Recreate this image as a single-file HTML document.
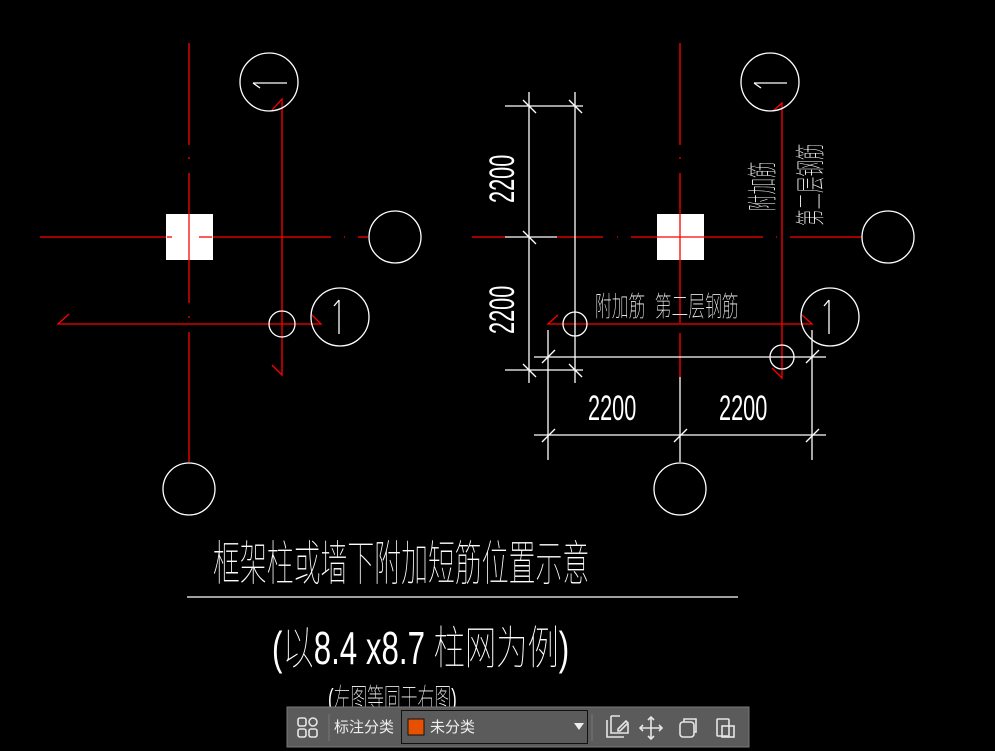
<!DOCTYPE html>
<html><head><meta charset="utf-8"><style>
html,body{margin:0;padding:0;background:#000;width:995px;height:751px;overflow:hidden}
svg{display:block}
.cad{font-family:"Liberation Sans","Noto Sans CJK SC",sans-serif;fill:#fff;font-weight:100}
.tb{font-family:"Liberation Sans","Noto Sans CJK SC",sans-serif;fill:#eee;font-size:15px}
</style></head><body>
<svg width="995" height="751" viewBox="0 0 995 751" xmlns="http://www.w3.org/2000/svg">
<g fill="none" stroke-width="1.3">
<!-- LEFT -->
<g stroke="#ff0000">
<line x1="189" y1="43" x2="189" y2="145"/><line x1="189" y1="157" x2="189" y2="159"/>
<line x1="189" y1="173" x2="189" y2="303"/><line x1="189" y1="316" x2="189" y2="318"/>
<line x1="189" y1="332" x2="189" y2="462"/>
<line x1="40" y1="237" x2="331" y2="237"/><line x1="344" y1="237" x2="345" y2="237"/><line x1="358" y1="237" x2="368" y2="237"/>
<polyline points="272,110 282,99 282,375 272,365"/>
<polyline points="69,314 58,324 321,324 312,315"/>
</g>
<rect x="166" y="214" width="47" height="46" fill="#fff" stroke="none"/>
<g stroke="#ff0000"><line x1="189" y1="214" x2="189" y2="260"/><line x1="167" y1="237" x2="172" y2="237"/><line x1="199" y1="237" x2="212" y2="237"/></g>
<g stroke="#fff">
<circle cx="269" cy="82" r="29"/><line x1="253" y1="83" x2="287" y2="83"/><line x1="253" y1="83" x2="260" y2="88"/>
<circle cx="395" cy="237" r="26"/>
<circle cx="189" cy="489" r="26"/>
<circle cx="282" cy="324" r="13"/>
<circle cx="340" cy="317" r="29"/><line x1="339" y1="300" x2="339" y2="334"/><line x1="339" y1="300" x2="334" y2="306"/>
</g>
<!-- RIGHT -->
<g stroke="#ff0000">
<line x1="680" y1="43" x2="680" y2="145"/><line x1="680" y1="157" x2="680" y2="159"/>
<line x1="680" y1="173" x2="680" y2="323"/><line x1="680" y1="333" x2="680" y2="377"/>
<line x1="472" y1="237" x2="505" y2="237"/><line x1="557" y1="237" x2="603" y2="237"/><line x1="617" y1="237" x2="618" y2="237"/><line x1="631" y1="237" x2="763" y2="237"/><line x1="776" y1="237" x2="777" y2="237"/><line x1="790" y1="237" x2="862" y2="237"/>
<polyline points="773,111 782,103 782,378 772,368"/>
<polyline points="558,315 548,324 812,324 802,315"/>
</g>
<rect x="657" y="214" width="47" height="46" fill="#fff" stroke="none"/>
<g stroke="#ff0000"><line x1="680" y1="214" x2="680" y2="260"/><line x1="657" y1="237" x2="704" y2="237"/></g>
<g stroke="#fff">
<line x1="505" y1="237" x2="557" y2="237"/>
<line x1="680" y1="377" x2="680" y2="462"/>
<circle cx="770" cy="82" r="29"/><line x1="754" y1="83" x2="787" y2="83"/><line x1="754" y1="83" x2="761" y2="88"/>
<circle cx="888" cy="237" r="26"/>
<circle cx="680" cy="489" r="26"/>
<circle cx="575" cy="324" r="12"/>
<circle cx="782" cy="357" r="12"/>
<circle cx="830" cy="317" r="29"/><line x1="829" y1="300" x2="829" y2="334"/><line x1="829" y1="300" x2="824" y2="306"/>
<line x1="529" y1="92" x2="529" y2="383"/><line x1="575" y1="92" x2="575" y2="383"/>
<line x1="505" y1="106" x2="583" y2="106"/><line x1="505" y1="370" x2="583" y2="370"/>
<line x1="523" y1="100" x2="536" y2="113"/><line x1="569" y1="100" x2="582" y2="113"/>
<line x1="523" y1="231" x2="536" y2="244"/>
<line x1="523" y1="364" x2="536" y2="377"/><line x1="569" y1="364" x2="582" y2="377"/>
<line x1="534" y1="357" x2="826" y2="357"/><line x1="534" y1="435" x2="826" y2="435"/>
<line x1="548" y1="330" x2="548" y2="460"/><line x1="812" y1="330" x2="812" y2="460"/>
<line x1="542" y1="363" x2="555" y2="350"/><line x1="806" y1="363" x2="819" y2="350"/>
<line x1="542" y1="442" x2="555" y2="429"/><line x1="674" y1="442" x2="687" y2="429"/><line x1="806" y1="442" x2="819" y2="429"/>
<line x1="187" y1="597" x2="738" y2="597"/>
</g>
</g>
<g class="cad">
<text transform="translate(514,203) rotate(-90) scale(0.62,1)" font-size="35">2200</text>
<text transform="translate(514,334) rotate(-90) scale(0.62,1)" font-size="35">2200</text>
<text transform="translate(588,420) scale(0.62,1)" font-size="35">2200</text>
<text transform="translate(719,420) scale(0.62,1)" font-size="35">2200</text>
<text transform="translate(595,316) scale(0.6,1)" font-size="28">附加筋&#160;&#160;第二层钢筋</text>
<text transform="translate(773,211) rotate(-90) scale(0.55,1)" font-size="30">附加筋</text>
<text transform="translate(821,226) rotate(-90) scale(0.55,1)" font-size="30">第二层钢筋</text>
<text transform="translate(213,580) scale(0.56,1)" font-size="48">框架柱或墙下附加短筋位置示意</text>
<text transform="translate(272,664) scale(0.68,1)" font-size="46">(以8.4 x8.7 柱网为例)</text>
<text transform="translate(328,708) scale(0.6,1)" font-size="28">(左图等同于右图)</text>
</g>
<rect x="287" y="707" width="462" height="40" fill="#5b5b5b" stroke="#7a7a7a" stroke-width="1"/>
<g fill="none" stroke="#e6e6e6" stroke-width="1.6">
<rect x="298" y="718" width="8" height="8" rx="2"/><rect x="309" y="718" width="8" height="8" rx="4"/>
<rect x="298" y="729" width="8" height="8" rx="2"/><rect x="309" y="729" width="8" height="8" rx="2"/>
</g>
<line x1="329" y1="714" x2="329" y2="741" stroke="#777"/>
<text class="tb" x="334" y="732">标注分类</text>
<rect x="401.5" y="710.5" width="186" height="33" fill="#5b5b5b" stroke="#111" stroke-width="1"/>
<rect x="408" y="719" width="16" height="16" fill="#e65100" stroke="#111"/>
<text class="tb" x="430" y="732">未分类</text>
<polygon points="574,723 584,723 579,730" fill="#eee"/>
<line x1="592" y1="714" x2="592" y2="741" stroke="#777"/>
<g fill="none" stroke="#e6e6e6" stroke-width="1.6">
<path d="M607 720 v17 h17"/><path d="M611 716 h9 M611 716 v17 h17 v-9"/><path d="M618 729 l8-8 2 2-8 8h-2z"/>
<path d="M651 717 v22 M640 728 h22"/><path d="M648 720 l3-3 3 3 M648 736 l3 3 3-3 M643 725 l-3 3 3 3 M659 725 l3 3-3 3"/>
<rect x="680" y="722" width="14" height="15" rx="3"/><path d="M684 722 v-3 h12 v13 h-2"/>
<rect x="717" y="719" width="12" height="17" rx="1"/><rect x="722" y="726" width="12" height="11"/>
</g>
</svg>
</body></html>
